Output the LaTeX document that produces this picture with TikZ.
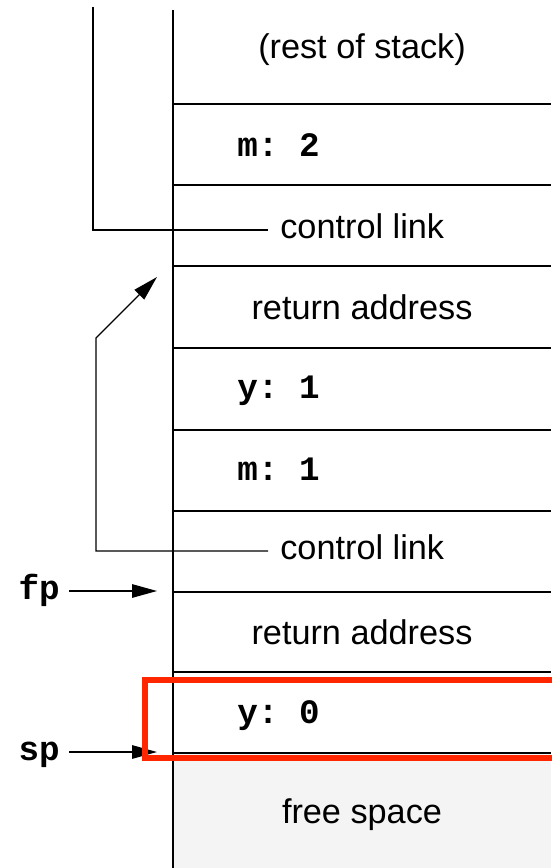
\documentclass[tikz,border=0pt]{standalone}
\usepackage{fontspec}
\setmainfont{Liberation Sans}
\setmonofont{Liberation Mono}
\usetikzlibrary{arrows.meta}
\definecolor{hilite}{RGB}{255,38,0}
\definecolor{freegray}{gray}{0.955}

\begin{document}
\begin{tikzpicture}[x=.02cm,y=-.02cm,
    every node/.style={font=\fontsize{19.5}{23}\selectfont, text height=14.6pt, text depth=4.5pt},
    slot/.style={line width=.8pt},
    sep/.style={line width=1.4pt},
    var/.style={anchor=west, inner sep=0pt, font=\fontsize{19.5}{23}\selectfont\ttfamily\bfseries},
    reg/.style={anchor=east, inner xsep=.18cm, font=\fontsize{19.5}{23}\selectfont\ttfamily\bfseries},
    link/.style={anchor=west, inner xsep=.24cm},
    ptr/.style={-{Triangle[length=.5cm,width=.27cm]}, line width=.8pt}]
      \useasboundingbox (0,0) rectangle (551,868);
      \fill[freegray] (173,753) rectangle (551,868);
      \draw[slot] (173,10) -- (173,868);
      \draw[sep] (173,104) -- (551,104);
      \draw[slot] (173,185) -- (551,185);
      \draw[slot] (173,266) -- (551,266);
      \draw[slot] (173,348) -- (551,348);
      \draw[sep] (173,430) -- (551,430);
      \draw[slot] (173,511) -- (551,511);
      \draw[slot] (173,592) -- (551,592);
      \draw[slot] (173,672) -- (551,672);
      \draw[sep] (173,753) -- (551,753);
      \node (rest) at (362,50) {(rest of stack)};
      \node[var] (m2) at (237,148) {m:~2};
      \node[link] (cl2) at (268,230) {control link};
      \node (ra2) at (362,311) {return address};
      \node[var] (y1) at (237,390) {y:~1};
      \node[var] (m1) at (237,472) {m:~1};
      \node[link] (cl1) at (268,551) {control link};
      \node (ra1) at (362,636) {return address};
      \node[var] (y0) at (237,715) {y:~0};
      \node (free) at (362,815) {free space};
      \node[reg] (fp) at (69,591) {fp};
      \node[reg] (sp) at (69,752) {sp};
      \coordinate (fpto) at (157,591);
      \coordinate (spto) at (157,752);
      \coordinate (up) at (93,7);
      \coordinate (bend) at (96,338);
      \coordinate (frame) at (157,277);
      \draw[slot] (up) |- (cl2.west);
      \draw[ptr] (cl1.west) -| (bend) -- (frame);
      \draw[ptr] (fp) -- (fpto);
      \draw[ptr] (sp) -- (spto);
      \draw[hilite, line width=.12cm] (144.5,679.5) rectangle (580,758);
    \end{tikzpicture}
\end{document}
